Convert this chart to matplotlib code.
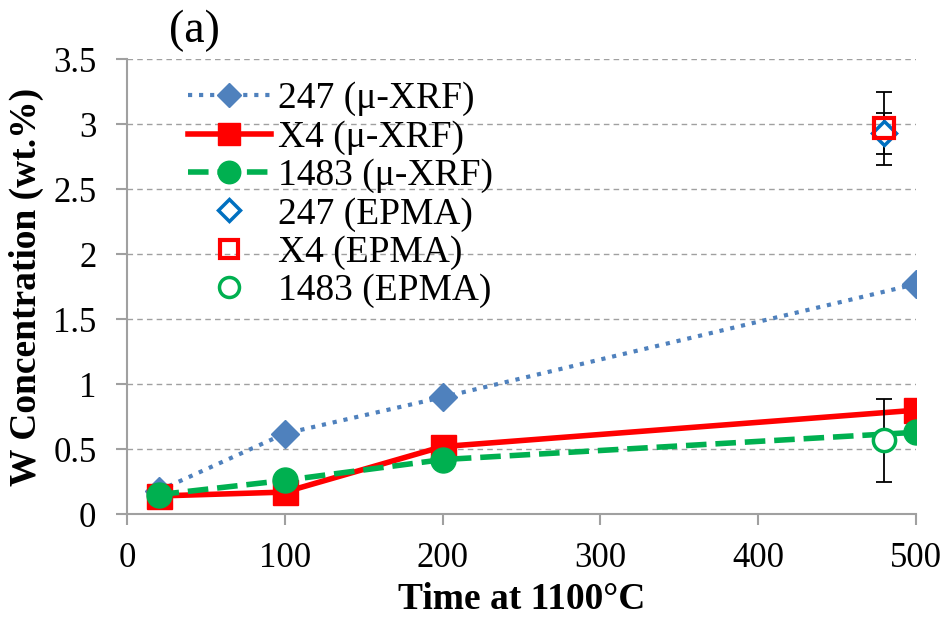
import matplotlib.pyplot as plt

plt.rcParams['font.family'] = ['Liberation Serif', 'DejaVu Serif']

time_xrf = [20, 100, 200, 500]
w247_xrf = [0.18, 0.62, 0.90, 1.77]
wx4_xrf = [0.14, 0.17, 0.52, 0.80]
w1483_xrf = [0.15, 0.26, 0.42, 0.63]

time_epma = [480]
w247_epma = [2.93]
err247_epma = [0.16]
wx4_epma = [2.97]
errx4_epma = [0.28]
w1483_epma = [0.57]
err1483_epma = [0.32]

fig = plt.figure(figsize=(9.48, 6.24), dpi=100)
ax = fig.add_axes([0.134, 0.176, 0.832, 0.729])

ax.plot(time_xrf, w247_xrf, linestyle=':', color='#4F81BD', lw=3,
        marker='D', ms=14, label='247 (μ-XRF)', zorder=3)
ax.plot(time_xrf, wx4_xrf, linestyle='-', color='#FF0000', lw=4,
        marker='s', ms=18, label='X4 (μ-XRF)', zorder=4)
ax.plot(time_xrf, w1483_xrf, linestyle='--', color='#00B050', lw=4,
        marker='o', ms=18, label='1483 (μ-XRF)', zorder=5)

ax.errorbar(time_epma, w247_epma, yerr=err247_epma, fmt='none', ecolor='black',
            elinewidth=1.3, capsize=6, capthick=1.3, zorder=6)
ax.errorbar(time_epma, wx4_epma, yerr=errx4_epma, fmt='none', ecolor='black',
            elinewidth=1.3, capsize=6, capthick=1.3, zorder=6)
ax.errorbar(time_epma, w1483_epma, yerr=err1483_epma, fmt='none', ecolor='black',
            elinewidth=1.3, capsize=6, capthick=1.3, zorder=6)

ax.plot(time_epma, w247_epma, linestyle='none', marker='D', ms=12,
        mfc='white', mec='#0070C0', mew=2.5, label='247 (EPMA)', zorder=7)
ax.plot(time_epma, wx4_epma, linestyle='none', marker='s', ms=15,
        mfc='none', mec='#FF0000', mew=3, label='X4 (EPMA)', zorder=8)
ax.plot(time_epma, w1483_epma, linestyle='none', marker='o', ms=16,
        mfc='white', mec='#00B050', mew=2.5, label='1483 (EPMA)', zorder=8)

ax.set_xlim(0, 500)
ax.set_ylim(0, 3.5)
ax.set_xticks([0, 100, 200, 300, 400, 500])
ax.set_yticks([0, 0.5, 1, 1.5, 2, 2.5, 3, 3.5])
ax.set_yticklabels(['0', '0.5', '1', '1.5', '2', '2.5', '3', '3.5'])
ax.yaxis.grid(True, linestyle=(0, (4, 3)), color='#A0A0A0', lw=1)
ax.set_axisbelow(True)

for s in ['top', 'right']:
    ax.spines[s].set_visible(False)
for s in ['left', 'bottom']:
    ax.spines[s].set_color('#A0A0A0')
    ax.spines[s].set_linewidth(1.5)
ax.tick_params(axis='both', direction='out', length=8, width=1.5,
               color='#A0A0A0', labelsize=25)
ax.tick_params(axis='y', pad=14)
ax.tick_params(axis='x', pad=12)

ax.set_xlabel('Time at 1100°C', fontsize=27, fontweight='bold')
ax.set_ylabel('W Concentration (wt.%)', fontsize=27, fontweight='bold')
ax.xaxis.set_label_coords(0.5, -0.15)
ax.yaxis.set_label_coords(-0.105, 0.5)

fig.text(0.205, 0.95, '(a)', fontsize=33, ha='center', va='center')

leg = ax.legend(loc='upper left', bbox_to_anchor=(0.049, 1.0), frameon=False,
                fontsize=27, handlelength=2.2, handletextpad=0.2,
                labelspacing=0.1, borderaxespad=0.2, markerscale=0.9)

plt.savefig('out.png', dpi=100)
